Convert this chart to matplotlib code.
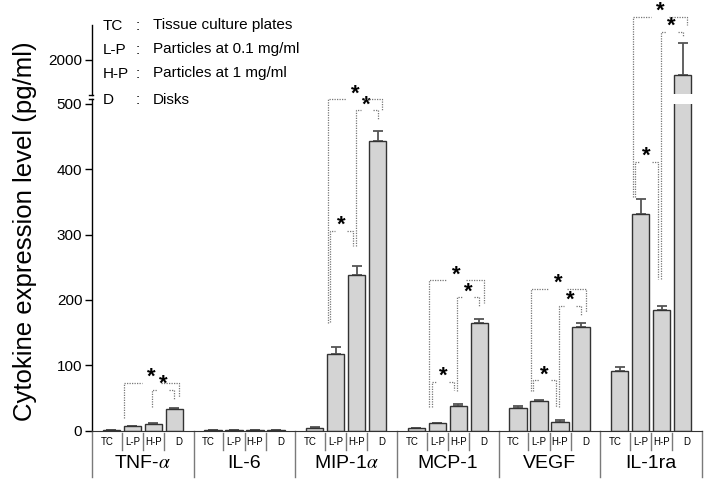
import numpy as np
import matplotlib.pyplot as plt

plt.rcParams['font.family'] = ['Liberation Sans', 'DejaVu Sans']
plt.rcParams['mathtext.fontset'] = 'stix'

# --- data (pg/ml) ---
cytokines = ['TNF-$\\alpha$', 'IL-6', 'MIP-1$\\alpha$', 'MCP-1', 'VEGF', 'IL-1ra']
conditions = ['TC', 'L-P', 'H-P', 'D']
cond_names = ['Tissue culture plates', 'Particles at 0.1 mg/ml',
              'Particles at 1 mg/ml', 'Disks']

tc = [0.8, 0.5, 3.5, 3.5, 34.5, 91.5]
lp = [6.5, 0.6, 117, 11.3, 46, 332]
hp = [11, 0.5, 238, 38, 13.2, 184]
dk = [33, 0.5, 444, 164.5, 158.3, 1786]
tc_err = [0.3, 0.2, 2, 1, 3.5, 6.5]
lp_err = [0.5, 0.2, 11, 1, 1, 22.5]
hp_err = [0.7, 0.2, 14, 2.6, 3.5, 7.5]
dk_err = [2.3, 0.2, 15, 6, 6, 452]

# significance brackets: group, from cond, to cond, level, left leg end, right leg end
brackets = [
    (0, 1, 3, 73, 19.5, 51.6),
    (0, 2, 3, 62.3, 36, 47),
    (2, 1, 3, 507, 165, 491),
    (2, 2, 3, 490, 283, 476),
    (2, 1, 2, 306, 166, 283),
    (3, 1, 3, 230, 37, 196),
    (3, 2, 3, 204, 60, 190),
    (3, 1, 2, 75, 37, 62),
    (4, 1, 3, 217, 61, 181),
    (4, 2, 3, 191, 37, 175),
    (4, 1, 2, 77, 61, 37),
    (5, 1, 3, 2610, 358, 2490),
    (5, 2, 3, 2396, 232, 2324),
    (5, 1, 2, 411, 358, 232),
]

# --- broken y scale: 0-508 linear, 1500-2500 compressed ---
LO, GAP, UP, K = 508.0, 6.0, 1500.0, 0.1072


def fwd(v):
    v = np.asarray(v, float)
    return np.where(v <= LO, v,
                    np.where(v <= UP, LO + (v - LO) * GAP / (UP - LO),
                             LO + GAP + (v - UP) * K))


def inv(y):
    y = np.asarray(y, float)
    return np.where(y <= LO, y,
                    np.where(y <= LO + GAP, LO + (y - LO) * (UP - LO) / GAP,
                             UP + (y - LO - GAP) / K))


fig = plt.figure(figsize=(7.11, 4.86), dpi=100)
ax = fig.add_axes([92 / 711, 1 - 430.7 / 486, 610 / 711, 406 / 486])
ax.set_yscale('function', functions=(fwd, inv))

step = 0.207
bw = 0.17
offs = (np.arange(4) - 1.5) * step
x = np.arange(len(cytokines))

for k, (vals, errs) in enumerate([(tc, tc_err), (lp, lp_err), (hp, hp_err), (dk, dk_err)]):
    xs = x + offs[k]
    ax.bar(xs, vals, width=bw, color='#d4d4d4', edgecolor='#333333', lw=1.0, zorder=2)
    ax.errorbar(xs, vals, yerr=[np.zeros(len(errs)), errs], fmt='none',
                ecolor='#555555', elinewidth=1.3, capsize=3.3, capthick=1.3, zorder=1)

# white cut through the tall bar at the axis break
ax.bar(x[-1] + offs[3], 1015, bottom=500, width=bw + 0.04, color='white', zorder=3)

ax.set_xlim(-0.5, len(cytokines) - 0.5)
ax.set_ylim(0, 2500)
ax.set_yticks([0, 100, 200, 300, 400, 500, 2000])
ax.set_xticks([])
ax.tick_params(axis='y', direction='out', length=5, width=1, labelsize=11, pad=2)
for s in ['top', 'right', 'left']:
    ax.spines[s].set_visible(False)
ax.spines['bottom'].set_color('#333333')

# broken left spine
ytr = ax.get_yaxis_transform()
kw = dict(color='black', lw=1, transform=ytr, clip_on=False)
ax.plot([0, 0], [0, LO], **kw)
ax.plot([0, 0], [UP, 2500], **kw)
ax.plot([-0.005, 0.002], [LO, LO], **kw)
ax.plot([-0.005, 0.002], [UP, UP], **kw)

# category labels below the axis
xtr = ax.get_xaxis_transform()
cells = [(-0.5, -step), (-step, 0), (0, step), (step, 0.5)]
for g, name in enumerate(cytokines):
    ax.plot([g - 0.5, g - 0.5], [0, -0.113], color='#7a7a7a', lw=1, transform=xtr, clip_on=False)
    for c in range(1, 4):
        xc = g + cells[c][0]
        ax.plot([xc, xc], [-0.005, -0.047], color='#7a7a7a', lw=1, transform=xtr, clip_on=False)
    for c, cond in enumerate(conditions):
        ax.text(g + sum(cells[c]) / 2, -0.027, cond, transform=xtr,
                ha='center', va='center', fontsize=7)
    ax.text(g, -0.082, name, transform=xtr, ha='center', va='center', fontsize=14)
ax.plot([5.5, 5.5], [0, -0.113], color='#7a7a7a', lw=1, transform=xtr, clip_on=False)

# significance brackets
leg_shift = {(1, 3): (-0.08, 0.045), (2, 3): (-0.01, 0.0), (1, 2): (-0.055, -0.04)}
for g, i, j, top, yl, yr in brackets:
    x1 = g + offs[i] + leg_shift[(i, j)][0]
    x2 = g + offs[j] + leg_shift[(i, j)][1]
    xm = (x1 + x2) / 2
    gap = 0.09 if (i, j) == (1, 3) else 0.06
    lkw = dict(color='#777777', lw=0.9, ls=(0, (1, 1)), clip_on=False, zorder=4)
    ax.plot([x1, x1, xm - gap], [yl, top, top], **lkw)
    ax.plot([xm + gap, x2, x2], [top, top, yr], **lkw)
    ax.annotate('*', (xm, top), xytext=(0, 4), textcoords='offset points',
                ha='center', va='center', fontsize=16, fontweight='bold',
                annotation_clip=False)

fig.text(25 / 711, 1 - 231.5 / 486, 'Cytokine expression level (pg/ml)',
         rotation=90, ha='center', va='center', fontsize=18.5)

# condition key in the top-left corner
for r, (cond, nm) in enumerate(zip(conditions, cond_names)):
    yy = 1 - [25.5, 49.5, 73.5, 100.5][r] / 486
    fig.text(103 / 711, yy, cond, ha='left', va='center', fontsize=11)
    fig.text(137.5 / 711, yy, ':', ha='center', va='center', fontsize=11)
    fig.text(153 / 711, yy, nm, ha='left', va='center', fontsize=11)

fig.savefig('out.png', dpi=100)
